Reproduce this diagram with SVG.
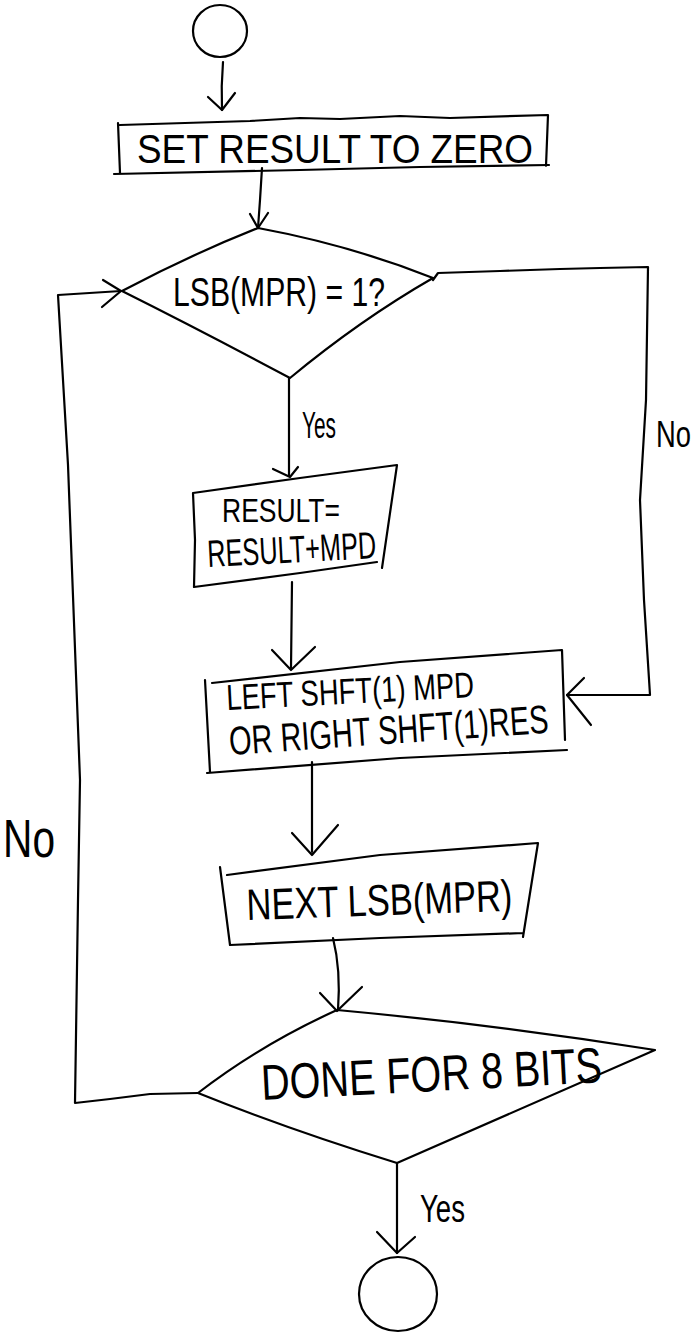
<svg xmlns="http://www.w3.org/2000/svg" width="696" height="1333" viewBox="0 0 696 1333">
<style>
.s{fill:none;stroke:#000;stroke-width:2.2;stroke-linecap:round;stroke-linejoin:round}
.t{font-family:"Liberation Sans",Arial,sans-serif;fill:#000;font-weight:normal}
</style>
<rect width="696" height="1333" fill="#fff"/>
<g id="connectors">
<path class="s" d="M223,62 Q221,86 222,110"/>
<path class="s" d="M208,97 L222,110 L235,93"/>
<path class="s" d="M262,168 L260,200 L258,228"/>
<path class="s" d="M250,214 L258,228 L268,213"/>
<path class="s" d="M433,280 L438,273 L500,271 L560,269 L600,268 L648,267 L646,400 L640,500 L644,600 L650,695 L567,695"/>
<path class="s" d="M584,678 L567,695 L591,725"/>
<path class="s" d="M198,1093 L150,1094 L110,1099 L75,1103 L78,900 L80,780 L68,465 L58,295 L121,291"/>
<path class="s" d="M103,280 L121,291 L102,307"/>
<path class="s" d="M289,378 L289,476"/>
<path class="s" d="M273,469 L290,477 L298,467"/>
<path class="s" d="M292,582 L291,668"/>
<path class="s" d="M272,650 L291,670 L315,647"/>
<path class="s" d="M312,762 L312,852"/>
<path class="s" d="M292,833 L312,855 L338,825"/>
<path class="s" d="M333,938 Q341,970 338,1010"/>
<path class="s" d="M320,993 L337,1011 L362,987"/>
<path class="s" d="M397,1163 L397,1253"/>
<path class="s" d="M377,1232 L397,1253 L415,1237"/>
</g>
<g id="start">
<ellipse class="s" cx="220" cy="31" rx="27" ry="26"/>
</g>
<g id="set-result">
<path class="s" d="M120,125 L250,121 L300,118 L340,119 L400,116 L450,118 L548,115 L546,166 M549,165 L420,167 L300,170 L114,174 M118,123 L120,173"/>
<text class="t" x="137" y="163" font-size="40" textLength="396" lengthAdjust="spacingAndGlyphs">SET RESULT TO ZERO</text>
</g>
<g id="decision-lsb">
<path class="s" d="M258,228 Q350,245 433,278 Q360,320 290,378 Q200,330 122,291 Q190,255 258,228 Z"/>
<text class="t" x="173" y="306" font-size="40" textLength="212" lengthAdjust="spacingAndGlyphs">LSB(MPR) = 1?</text>
</g>
<g id="result-add">
<path class="s" d="M193,493 L300,478 L397,465 L382,568 M377,562 L300,573 L194,587 L195,540 L193,493"/>
<text class="t" x="222" y="522" font-size="34" textLength="118" lengthAdjust="spacingAndGlyphs">RESULT=</text>
<text class="t" x="208" y="567" font-size="38" textLength="169" lengthAdjust="spacingAndGlyphs" transform="rotate(-3 208 567)">RESULT+MPD</text>
</g>
<g id="shift">
<path class="s" d="M212,683 L400,662 L562,650 L565,740 M567,750 L400,758 L207,773 M205,680 L210,772"/>
<text class="t" x="227" y="710" font-size="36" textLength="248" lengthAdjust="spacingAndGlyphs" transform="rotate(-3 227 710)">LEFT SHFT(1) MPD</text>
<text class="t" x="230" y="755" font-size="40" textLength="320" lengthAdjust="spacingAndGlyphs" transform="rotate(-4 230 755)">OR RIGHT SHFT(1)RES</text>
</g>
<g id="next-lsb">
<path class="s" d="M227,875 L380,855 L538,843 L523,937 M523,933 L380,938 L230,945 M220,867 L230,945"/>
<text class="t" x="247" y="920" font-size="44" textLength="266" lengthAdjust="spacingAndGlyphs" transform="rotate(-2 247 920)">NEXT LSB(MPR)</text>
</g>
<g id="decision-done">
<path class="s" d="M337,1010 Q500,1025 655,1050 Q530,1105 397,1163 Q290,1130 198,1093 Q260,1045 337,1010 Z"/>
<text class="t" x="262" y="1100" font-size="50" textLength="341" lengthAdjust="spacingAndGlyphs" transform="rotate(-3 262 1100)">DONE FOR 8 BITS</text>
</g>
<g id="end">
<ellipse class="s" cx="398" cy="1294" rx="39" ry="37"/>
</g>
<g id="labels">
<text class="t" x="302" y="438" font-size="36" textLength="34" lengthAdjust="spacingAndGlyphs">Yes</text>
<text class="t" x="0" y="0" font-size="30" textLength="35" lengthAdjust="spacingAndGlyphs" transform="translate(656,447) scale(1,1.25)">No</text>
<text class="t" x="3" y="857" font-size="54" textLength="52" lengthAdjust="spacingAndGlyphs">No</text>
<text class="t" x="420" y="1222" font-size="38" textLength="45" lengthAdjust="spacingAndGlyphs">Yes</text>
</g>
</svg>
